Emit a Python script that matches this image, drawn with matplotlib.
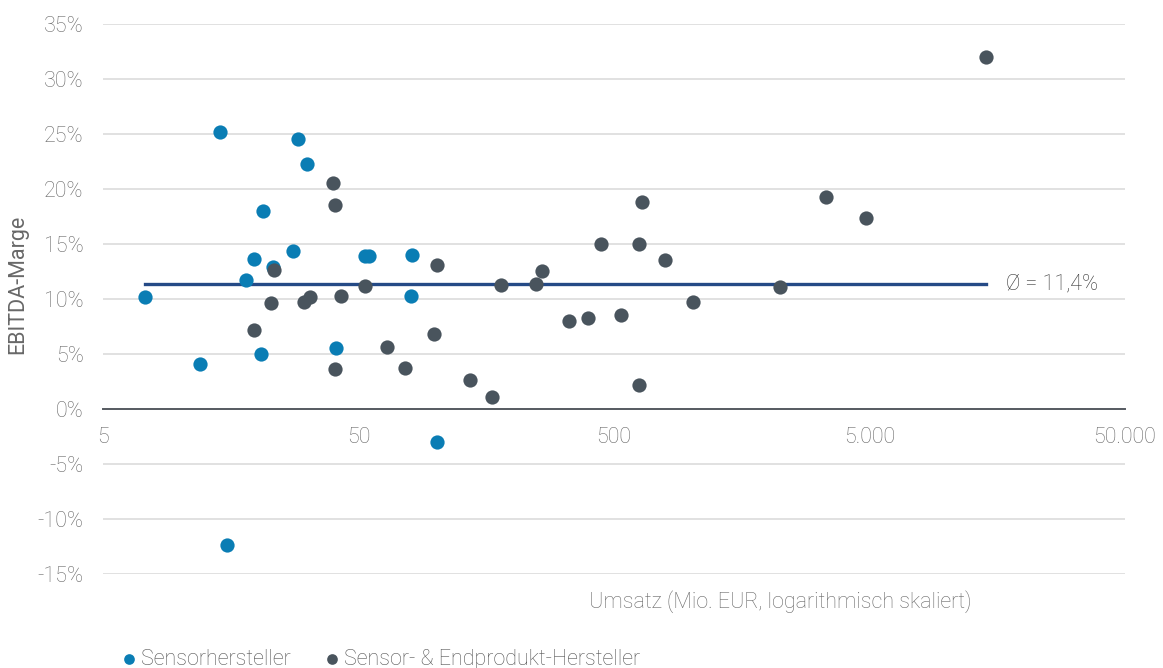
import numpy as np
import matplotlib.pyplot as plt
from matplotlib.ticker import FixedLocator, NullLocator

plt.rcParams['font.family'] = ['Roboto', 'DejaVu Sans']
plt.rcParams['font.weight'] = 'light'

# Sensorhersteller (Umsatz Mio. EUR, EBITDA-Marge %)
sensor_umsatz = [7.3, 14.4, 12.0, 15.3, 29.0, 31.4, 21.2, 19.5, 27.7, 18.1,
                 23.1, 20.8, 40.8, 53, 55, 81, 80, 101]
sensor_marge = [10.2, 25.2, 4.1, -12.4, 24.5, 22.3, 18.0, 13.6, 14.4, 11.7,
                12.9, 5.0, 5.5, 13.9, 13.9, 14.0, 10.3, -3.0]

# Sensor- & Endprodukt-Hersteller
end_umsatz = [39.8, 40.4, 23.3, 53, 19.5, 22.7, 30.6, 32.3, 42.7, 40.4,
              64.6, 76, 101, 98.7, 137, 166, 181, 248, 261, 333,
              395, 445, 532, 626, 644, 792, 1019, 626, 14290, 3378,
              4845, 2231]
end_marge = [20.5, 18.5, 12.6, 11.2, 7.2, 9.6, 9.7, 10.2, 10.3, 3.6,
             5.6, 3.7, 13.1, 6.8, 2.6, 1.1, 11.3, 11.4, 12.5, 8.0,
             8.3, 15.0, 8.5, 15.0, 18.8, 13.5, 9.7, 2.2, 32.0, 19.3,
             17.4, 11.1]

mittelwert = 11.4
mittel_von, mittel_bis = 7.3, 14300

y_ticks = [-15, -10, -5, 0, 5, 10, 15, 20, 25, 30, 35]
x_ticks = [5, 50, 500, 5000, 50000]
x_labels = ['5', '50', '500', '5.000', '50.000']

blue = '#0a7db4'
dark = '#49545d'
gray_text = '#686868'
fs = 15.5

fig = plt.figure(figsize=(11.63, 6.68), dpi=100)
ax = fig.add_axes([0.0886, 0.1407, 0.8787, 0.8234])

ax.set_xscale('log')
ax.set_xlim(5, 50000)
ax.set_ylim(-15, 35)

for yv in y_ticks:
    if yv != 0:
        ax.axhline(yv, color='#dcdcdc', lw=1.2, zorder=0)

ax.plot([mittel_von, mittel_bis], [mittelwert, mittelwert], color='#254a86', lw=2.4, zorder=1)
ax.text(mittel_bis * 1.2, mittelwert, 'Ø = 11,4%', va='center', ha='left',
        fontsize=fs, color='#333333')

ax.scatter(sensor_umsatz, sensor_marge, s=105, color=blue, linewidths=0, zorder=2,
           label='Sensorhersteller')
ax.scatter(end_umsatz, end_marge, s=105, color=dark, linewidths=0, zorder=3,
           label='Sensor- & Endprodukt-Hersteller')

for side in ['left', 'right', 'top']:
    ax.spines[side].set_visible(False)
ax.spines['bottom'].set_position(('data', 0))
ax.spines['bottom'].set_color('#555a60')
ax.spines['bottom'].set_linewidth(1.4)

ax.xaxis.set_major_locator(FixedLocator(x_ticks))
ax.xaxis.set_minor_locator(NullLocator())
ax.set_xticklabels(x_labels)
ax.set_yticks(y_ticks)
ax.set_yticklabels([f'{v}%' for v in y_ticks])
ax.tick_params(axis='both', length=0, labelsize=fs, labelcolor=gray_text)
ax.tick_params(axis='y', pad=14)
ax.tick_params(axis='x', pad=13)

ax.set_ylabel('EBITDA-Marge', fontsize=fs, color=gray_text)
ax.yaxis.set_label_coords(-0.073, 0.527)
fig.text(0.6707, 0.0988, 'Umsatz (Mio. EUR, logarithmisch skaliert)', ha='center', va='center',
         fontsize=fs, color=gray_text)

leg = fig.legend(loc='center', bbox_to_anchor=(0.326, 0.013), ncol=2, frameon=False,
                 fontsize=15.5, handletextpad=0.05, columnspacing=1.4, markerscale=0.75,
                 handlelength=1.0)
for t in leg.get_texts():
    t.set_color('#555555')

fig.savefig('out.png', dpi=100)
